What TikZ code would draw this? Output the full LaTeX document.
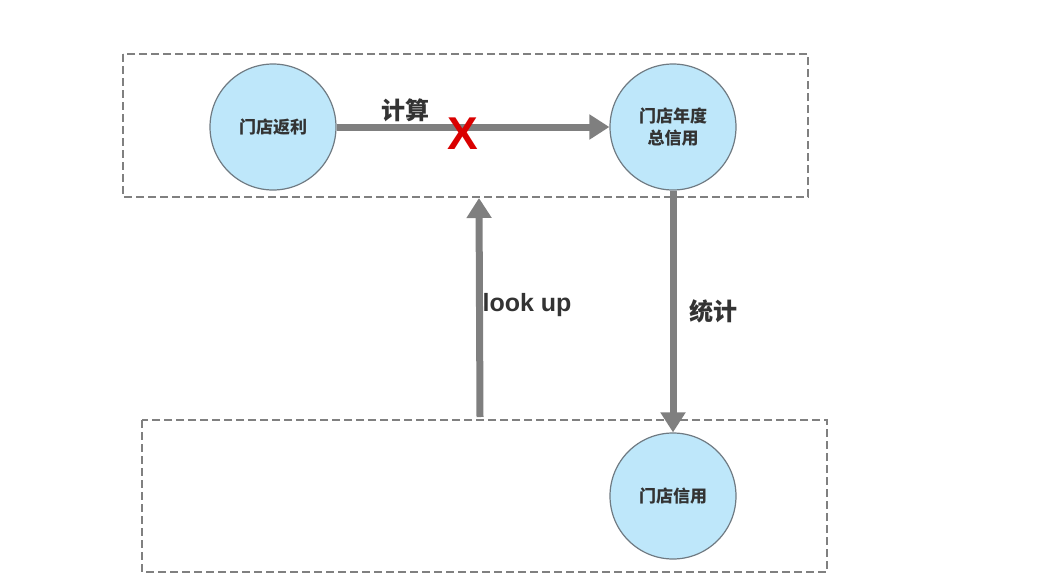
\documentclass[tikz,border=0pt]{standalone}
\usepackage{fontspec}
\setmainfont{Liberation Sans}
\newfontfamily\cjk{Noto Sans CJK SC}
\usetikzlibrary{arrows.meta}
\definecolor{cfill}{HTML}{BEE7FA}
\definecolor{cline}{HTML}{6F7A82}
\definecolor{arr}{HTML}{7F7F7F}
\definecolor{txt}{HTML}{333333}
\begin{document}
\begin{tikzpicture}[x=1pt,y=-1pt,
  box/.style={draw=gray,dash pattern=on 8pt off 4pt,line width=1.2pt},
  circ/.style={circle,draw=cline,line width=1.2pt,fill=cfill,minimum size=126pt,inner sep=0pt,font=\cjk\bfseries\fontsize{17}{22}\selectfont,text=txt,align=center},
  con/.style={draw=arr,line width=7pt,-{Triangle[length=20pt,width=24pt]}},
  lab/.style={text=txt}]
\useasboundingbox (0,0) rectangle (1042,573);
\draw[box] (123,54) rectangle (808,197);
\draw[box] (142,420) rectangle (827,572);
\node[circ] (a) at (273,127) {门店返利};
\node[circ] (b) at (673,127) {门店年度\\总信用};
\node[circ] (c) at (673,496) {门店信用};
\coordinate (lt) at (480,417);
\coordinate (lh) at (479,198);
\draw[con] (a.east) -- (b.west);
\draw[con] (b.south) -- (c.north);
\draw[con] (lt) -- (lh);
\node[lab,font=\cjk\bfseries\fontsize{24}{26}\selectfont] (l1) at (405,110) {计算};
\node[font=\bfseries\fontsize{46}{48}\selectfont,text=red!85!black] (x) at (463,134) {X};
\node[lab,font=\cjk\bfseries\fontsize{24}{26}\selectfont] (l2) at (713,311) {统计};
\node[lab,font=\bfseries\fontsize{25}{26}\selectfont] (l3) at (527,305) {look up};
\end{tikzpicture}
\end{document}
